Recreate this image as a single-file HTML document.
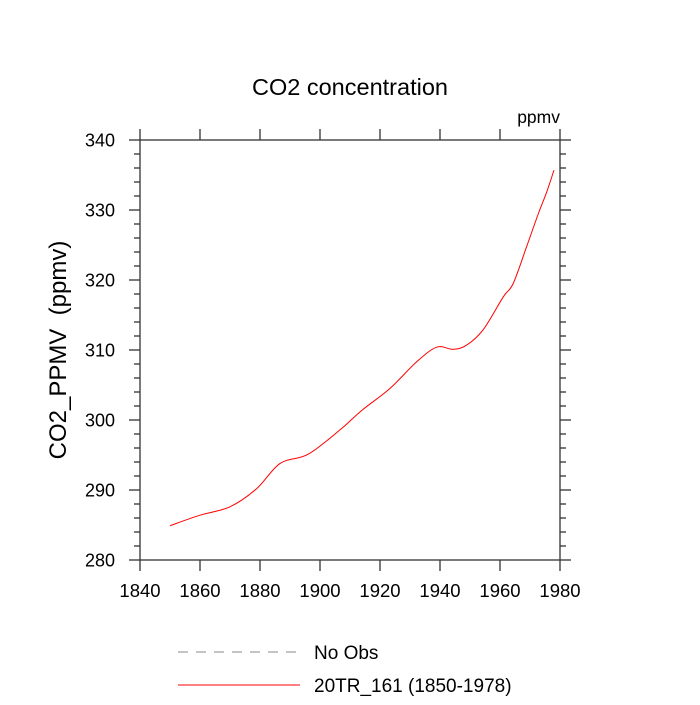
<!DOCTYPE html>
<html><head><meta charset="utf-8"><style>
body{margin:0;background:#fff}
svg text{font-family:"Liberation Sans",sans-serif;fill:#000}
</style></head><body>
<svg id="c" width="700" height="700" viewBox="0 0 700 700">
<text x="350" y="95" font-size="23.5" text-anchor="middle">CO2 concentration</text>
<text x="560" y="123" font-size="17.5" text-anchor="end">ppmv</text>
<text transform="translate(66,350) rotate(-90)" font-size="24" text-anchor="middle" xml:space="preserve">CO2_PPMV  (ppmv)</text>
<g id="axes"></g>
<g id="legend">
<line x1="178" y1="652" x2="300" y2="652" stroke="#888" stroke-dasharray="10,8"/>
<text x="314" y="659" font-size="19">No Obs</text>
<line x1="178" y1="685" x2="300" y2="685" stroke="red"/>
<text x="314" y="692" font-size="19">20TR_161 (1850-1978)</text>
</g>
</svg>
<script>
const years=[1850,1860,1870,1878.9,1886.7,1896,1906.7,1914,1923.3,1932.2,1938.9,1944.4,1948.9,1954.4,1961.1,1964.4,1968.9,1972.8,1975.6,1978];
const co2=[284.9,286.4,287.6,290.2,293.8,295.1,298.6,301.4,304.5,308.3,310.4,310.1,310.7,312.9,317.6,319.5,324.8,329.5,332.6,335.7];
const xTicks=[1840,1860,1880,1900,1920,1940,1960,1980];
const yTicks=[280,290,300,310,320,330,340];
const L=140,R=560,T=140,B=560;
const sx=v=>L+(v-1840)/140*(R-L);
const sy=v=>B-(v-280)/60*(B-T);
const ns="http://www.w3.org/2000/svg";
const g=document.getElementById('axes');
function mk(t,a){const e=document.createElementNS(ns,t);for(const k in a)e.setAttribute(k,a[k]);g.appendChild(e);return e;}
const fr=mk('rect',{x:L,y:T,width:R-L,height:B-T,fill:'none',stroke:'#333','stroke-width':1.3});


xTicks.forEach(v=>{const x=sx(v);
 const t1=mk('line',{x1:x,y1:B,x2:x,y2:B+11,stroke:'#333','stroke-width':1.3});
 
 
 const t2=mk('line',{x1:x,y1:T,x2:x,y2:T-11,stroke:'#333','stroke-width':1.3});
 
 
 const tx=mk('text',{x:x,y:B+37,'font-size':18.5,'text-anchor':'middle'});tx.textContent=v;
 
 
});
for(let v=280;v<=340;v+=2){const y=sy(v);const maj=(v%10===0);const len=maj?11:6;
 const a=mk('line',{x1:L,y1:y,x2:L-len,y2:y,stroke:'#333','stroke-width':1.3});
 
 
 const b=mk('line',{x1:R,y1:y,x2:R+len,y2:y,stroke:'#333','stroke-width':1.3});
 
 
}
yTicks.forEach(v=>{const tx=mk('text',{x:L-25,y:sy(v)+6.5,'font-size':18,'text-anchor':'end'});tx.textContent=v;
 
 
});
const pts=years.map((y,i)=>[sx(y),sy(co2[i])]);
let d='M'+pts[0][0]+','+pts[0][1];
for(let i=0;i<pts.length-1;i++){const p0=pts[Math.max(i-1,0)],p1=pts[i],p2=pts[i+1],p3=pts[Math.min(i+2,pts.length-1)];
 d+=` C${p1[0]+(p2[0]-p0[0])/6},${p1[1]+(p2[1]-p0[1])/6} ${p2[0]-(p3[0]-p1[0])/6},${p2[1]-(p3[1]-p1[1])/6} ${p2[0]},${p2[1]}`;}
const line=mk('path',{d:d,fill:'none',stroke:'red','stroke-width':1});


</script>
</body></html>
